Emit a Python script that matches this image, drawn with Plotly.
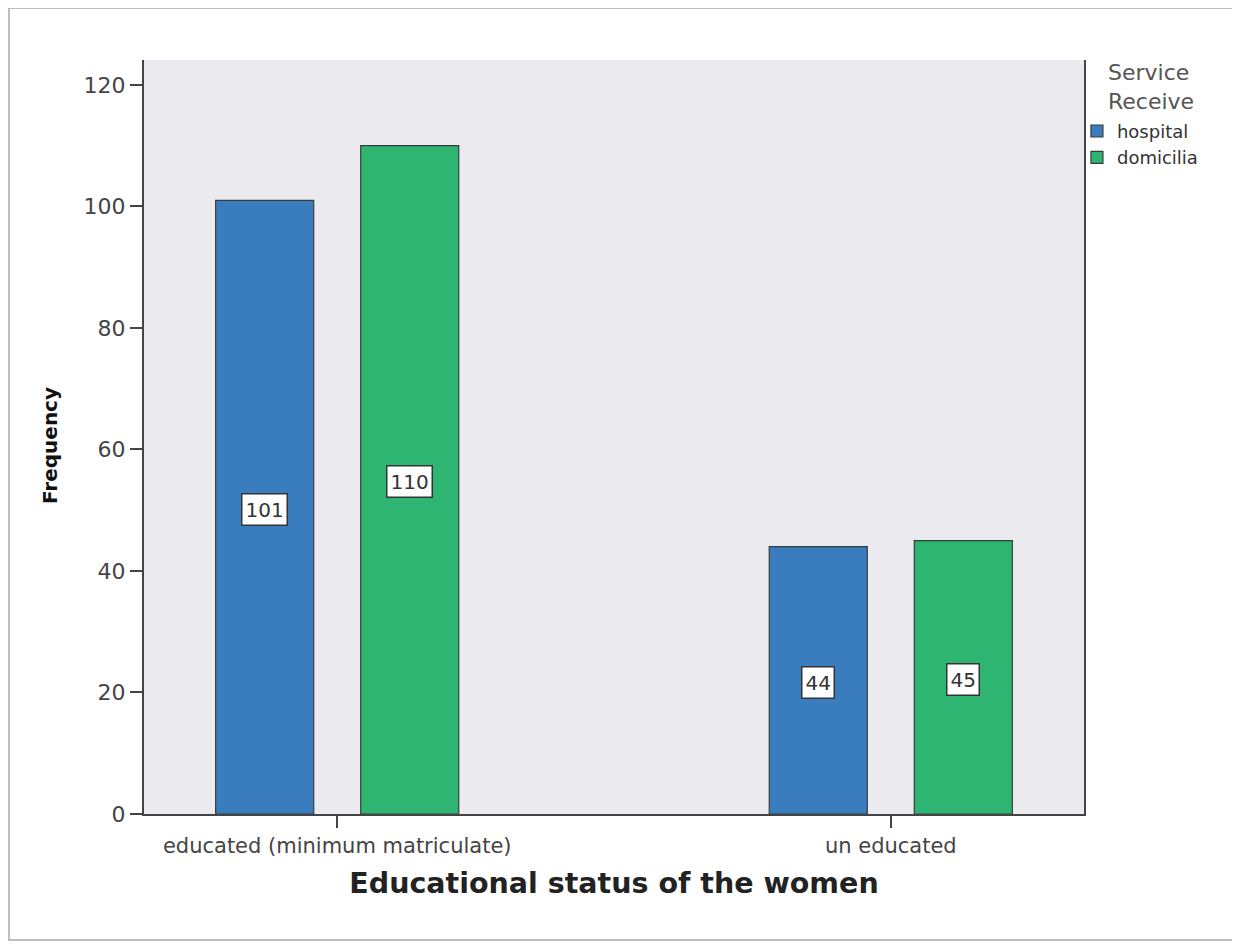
import plotly.graph_objects as go

categories = ["educated (minimum matriculate)", "un educated"]
series_names = ["hospital", "domicilia"]
hospital = [101, 44]
domicilia = [110, 45]
y_ticks = [0, 20, 40, 60, 80, 100, 120]

colors = ["#3a7dbf", "#2fb572"]
FONT = "DejaVu Sans"

fig = go.Figure()
for name, vals, col in zip(series_names, [hospital, domicilia], colors):
    fig.add_trace(go.Bar(
        x=categories, y=vals, name=name,
        marker=dict(color=col, line=dict(color="#3a3a3a", width=1.2)),
    ))

# data labels as boxed annotations at mid-height of bars
for vals, shift in zip([hospital, domicilia], [-73, 72.5]):
    for c, v in zip(categories, vals):
        fig.add_annotation(
            x=c, y=v / 2, xref="x", yref="y", xshift=shift, yshift=-2,
            text=str(v), showarrow=False,
            font=dict(family=FONT, size=20, color="#333333"),
            bgcolor="white", bordercolor="#333333", borderwidth=1.5, borderpad=3,
        )

# legend title (drawn as text so it can sit where the reference has it)
fig.add_annotation(
    x=1.0235, y=1.003, xref="paper", yref="paper", xanchor="left", yanchor="top",
    text="Service<br>Receive", showarrow=False, align="left",
    font=dict(family=FONT, size=22, color="#555555"),
)

# y axis title
fig.add_annotation(
    x=-0.1, y=0.488, xref="paper", yref="paper", textangle=-90,
    xanchor="center", yanchor="middle",
    text="<b>Frequency</b>", showarrow=False,
    font=dict(family=FONT, size=20, color="#111111"),
)

# outer frame
fig.add_shape(type="rect", xref="paper", yref="paper",
              x0=-0.1437, x1=1.163, y0=-0.167, y1=1.069,
              line=dict(color="#bdbdbd", width=2), layer="below")

fig.update_layout(
    width=1232, height=938,
    margin=dict(l=136, r=156, t=52, b=132),
    paper_bgcolor="white", plot_bgcolor="#ebebef",
    barmode="group", bargap=0.476, bargroupgap=0.324,
    font=dict(family=FONT, color="#444444"),
    legend=dict(
        x=0.9925, xanchor="left", y=0.93, yanchor="top",
        font=dict(size=18, color="#333333"),
        bgcolor="rgba(0,0,0,0)", tracegroupgap=0, itemwidth=30,
    ),
    xaxis=dict(
        range=[-0.349, 1.349], showline=True, linecolor="#444444", linewidth=2,
        ticks="outside", ticklen=12, tickcolor="#444444", tickwidth=2,
        tickfont=dict(size=21, color="#444444"),
        title=dict(text="Educational status of the women",
                   font=dict(family=FONT, size=28.5, color="#222222", weight="bold"),
                   standoff=16),
        showgrid=False, zeroline=False,
    ),
    yaxis=dict(
        range=[0, 124.1], tickvals=y_ticks, showline=True, mirror=True,
        linecolor="#444444", linewidth=2,
        ticks="outside", ticklen=12, tickcolor="#444444", tickwidth=2,
        tickfont=dict(size=22, color="#444444"),
        showgrid=False, zeroline=False,
    ),
)

fig.write_html("out.html")
